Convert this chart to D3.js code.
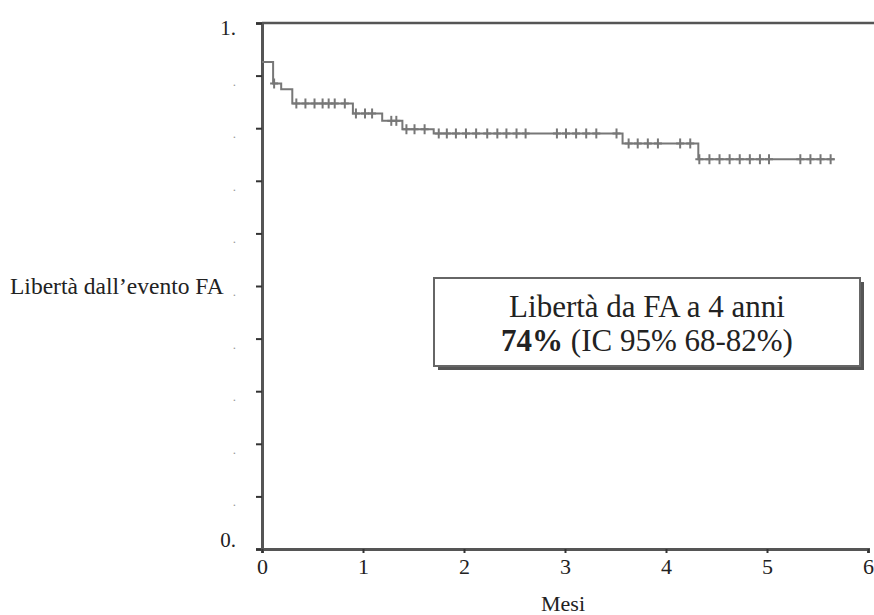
<!DOCTYPE html>
<html>
<head>
<meta charset="utf-8">
<script src="https://cdn.jsdelivr.net/npm/d3@7"></script>
<style>
  body { margin: 0; background: #fff; }
  svg text { font-family: "Liberation Serif", "Times New Roman", Times, serif; fill: #222; }
</style>
</head>
<body>
<div id="chart"></div>
<script>
// Kaplan-Meier: libertà dall'evento FA
const stepTimes = [0, 0.11, 0.19, 0.30, 0.90, 1.19, 1.39, 1.70, 3.57, 4.32];
const stepSurv = [0.926, 0.885, 0.874, 0.847, 0.828, 0.814, 0.798, 0.790, 0.771, 0.741];
const lastTime = 5.67;

const censorTimes = [
  0.12, 0.34, 0.43, 0.52, 0.60, 0.66, 0.72, 0.82,
  0.93, 1.02, 1.09, 1.28, 1.33, 1.43, 1.51, 1.61,
  1.75, 1.83, 1.92, 2.02, 2.12, 2.23, 2.33, 2.42, 2.52, 2.61,
  2.92, 3.01, 3.11, 3.21, 3.31, 3.51,
  3.63, 3.72, 3.82, 3.92, 4.14, 4.24,
  4.33, 4.43, 4.53, 4.63, 4.73, 4.83, 4.93, 5.02,
  5.33, 5.43, 5.53, 5.63
];

const xTicks = [0, 1, 2, 3, 4, 5, 6];
const yTicks = [0, 0.1, 0.2, 0.3, 0.4, 0.5, 0.6, 0.7, 0.8, 0.9, 1];
const yTickLabels = ["0.", ".", ".", ".", ".", ".", ".", ".", ".", ".", "1."];

const serif = "'Liberation Serif', 'Times New Roman', Times, serif";
const width = 874, height = 615;
const margin = { top: 23, right: 6, bottom: 66, left: 262 };

const svg = d3.select("#chart").append("svg")
  .attr("width", width)
  .attr("height", height)
  .attr("font-family", serif);

const x = d3.scaleLinear().domain([0, 6]).range([margin.left, width - margin.right]);
const y = d3.scaleLinear().domain([0, 1]).range([height - margin.bottom, margin.top]);

const axisColor = "#555";
const curveColor = "#777";

// top frame line
svg.append("line")
  .attr("x1", x(0)).attr("x2", width)
  .attr("y1", y(1)).attr("y2", y(1))
  .attr("stroke", axisColor).attr("stroke-width", 2.5);

/* ---------- Axes ---------- */
const yAxis = svg.append("g")
  .attr("transform", `translate(${x(0)},0)`)
  .call(d3.axisLeft(y).tickValues(yTicks).tickSize(6).tickFormat(""));
yAxis.select(".domain").attr("stroke", axisColor).attr("stroke-width", 3);
yAxis.selectAll(".tick line").attr("stroke", "#333").attr("stroke-width", 2);

svg.selectAll(".ylab")
  .data(yTicks)
  .enter()
  .append("text")
  .attr("class", "ylab")
  .attr("x", x(0) - 26)
  .attr("y", (d) => y(d) + (d === 0 ? -2 : d === 1 ? 12 : 10))
  .attr("text-anchor", "end")
  .attr("font-size", d => (d === 0 || d === 1) ? "21px" : "13px")
  .style("fill", d => (d === 0 || d === 1) ? "#222" : "#999")
  .text((d, i) => yTickLabels[i]);

const xAxis = svg.append("g")
  .attr("transform", `translate(0,${y(0)})`)
  .call(d3.axisBottom(x).tickValues(xTicks).tickSize(4).tickFormat(d3.format("d")));
xAxis.attr("font-family", serif);
xAxis.select(".domain").attr("stroke", axisColor).attr("stroke-width", 3);
xAxis.selectAll(".tick line").attr("stroke", "#333").attr("stroke-width", 2);
xAxis.selectAll(".tick text")
  .attr("font-size", "22px")
  .attr("y", 9)
  .attr("dy", "0.71em");

svg.append("text")
  .attr("x", x(3) - 2)
  .attr("y", 611)
  .attr("text-anchor", "middle")
  .attr("font-size", "22px")
  .text("Mesi");

svg.append("text")
  .attr("x", 10)
  .attr("y", 294)
  .attr("text-anchor", "start")
  .attr("font-size", "23.5px")
  .text("Libertà dall\u2019evento FA");

/* ---------- KM curve ---------- */
const kmPoints = stepTimes.map((t, i) => ({ t: t, s: stepSurv[i] }));
kmPoints.push({ t: lastTime, s: stepSurv[stepSurv.length - 1] });

const kmLine = d3.line()
  .x(d => x(d.t))
  .y(d => y(d.s))
  .curve(d3.curveStepAfter);

svg.append("path")
  .datum(kmPoints)
  .attr("fill", "none")
  .attr("stroke", curveColor)
  .attr("stroke-width", 2)
  .attr("d", kmLine);

function survAt(t) {
  let s = stepSurv[0];
  for (let i = 0; i < stepTimes.length; i++) {
    if (stepTimes[i] <= t) s = stepSurv[i];
  }
  return s;
}

/* ---------- Censor marks ---------- */
const marks = svg.selectAll(".censor")
  .data(censorTimes)
  .enter()
  .append("g")
  .attr("class", "censor")
  .attr("transform", d => `translate(${x(d)},${y(survAt(d))})`);

marks.append("line")
  .attr("x1", 0).attr("x2", 0)
  .attr("y1", -5).attr("y2", 5)
  .attr("stroke", curveColor).attr("stroke-width", 2);
marks.append("line")
  .attr("x1", -4).attr("x2", 4)
  .attr("y1", 0).attr("y2", 0)
  .attr("stroke", curveColor).attr("stroke-width", 2);

/* ---------- Annotation box ---------- */
const box = { x: 434, y: 278, w: 426, h: 88 };
svg.append("rect")
  .attr("x", box.x + 4).attr("y", box.y + 4)
  .attr("width", box.w).attr("height", box.h)
  .attr("fill", "#555");
svg.append("rect")
  .attr("x", box.x).attr("y", box.y)
  .attr("width", box.w).attr("height", box.h)
  .attr("fill", "#fff")
  .attr("stroke", "#666")
  .attr("stroke-width", 2);

svg.append("text")
  .attr("x", box.x + box.w / 2)
  .attr("y", box.y + 39)
  .attr("text-anchor", "middle")
  .attr("font-size", "31px")
  .text("Libertà da FA a 4 anni");

const line2 = svg.append("text")
  .attr("x", box.x + box.w / 2)
  .attr("y", box.y + 73)
  .attr("text-anchor", "middle")
  .attr("font-size", "31px");
line2.append("tspan").attr("font-weight", "bold").text("74%");
line2.append("tspan").text(" (IC 95% 68-82%)");
</script>
</body>
</html>
